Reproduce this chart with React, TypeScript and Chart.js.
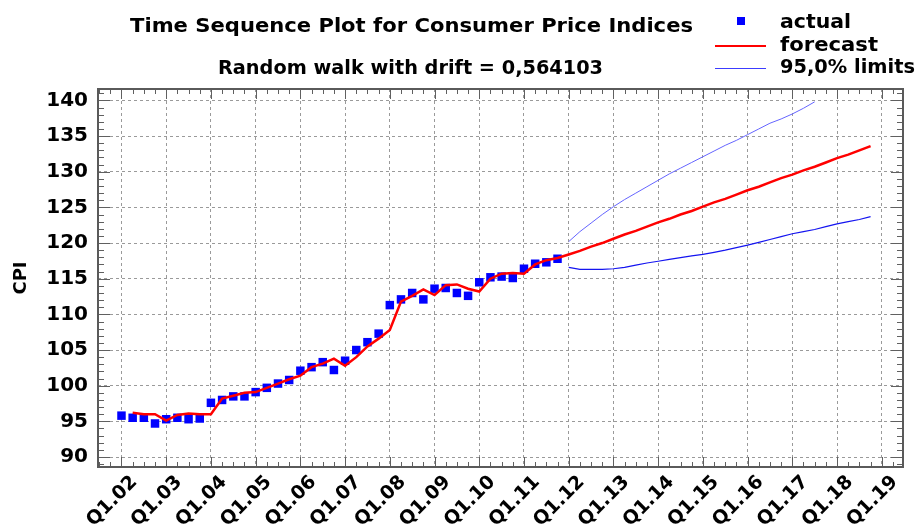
import React, { useEffect, useRef } from 'react';
import { Chart, registerables } from 'chart.js';

Chart.register(...registerables);

// ---- data ----
const quarterTickPositions = [0, 4, 8, 12, 16, 20, 24, 28, 32, 36, 40, 44, 48, 52, 56, 60, 64, 68];
const quarterTickLabels = ['Q1.02', 'Q1.03', 'Q1.04', 'Q1.05', 'Q1.06', 'Q1.07', 'Q1.08', 'Q1.09', 'Q1.10',
  'Q1.11', 'Q1.12', 'Q1.13', 'Q1.14', 'Q1.15', 'Q1.16', 'Q1.17', 'Q1.18', 'Q1.19'];
const yTickValues = [90, 95, 100, 105, 110, 115, 120, 125, 130, 135, 140];

// actual CPI, Q1.02 .. Q4.11 (quarter index 0..39)
const actualStart = 0;
const actualCPI = [
  95.8, 95.5, 95.5, 94.7, 95.3, 95.5, 95.3, 95.4,
  97.6, 98.0, 98.5, 98.5, 99.1, 99.7, 100.3, 100.8,
  102.1, 102.6, 103.3, 102.2, 103.5, 105.0, 106.1, 107.3,
  111.3, 112.1, 113.0, 112.1, 113.6, 113.7, 113.0, 112.6,
  114.5, 115.2, 115.3, 115.1, 116.4, 117.1, 117.3, 117.8,
];

// forecasts, Q2.02 .. Q4.18 (quarter index 1..67)
const forecastStart = 1;
const forecastCPI = [
  96.2, 96.0, 96.0, 95.1, 95.9, 96.1, 96.0, 96.0,
  98.2, 98.6, 99.0, 99.1, 99.7, 100.3, 100.9, 101.4,
  102.6, 103.1, 103.8, 102.8, 104.0, 105.5, 106.6, 107.8,
  111.8, 112.6, 113.5, 112.7, 114.1, 114.2, 113.6, 113.2,
  115.0, 115.7, 115.8, 115.7, 117.0, 117.6, 117.9,
  118.4, 118.9, 119.5, 120.0, 120.6, 121.2, 121.7, 122.3,
  122.9, 123.4, 124.0, 124.5, 125.1, 125.7, 126.2, 126.8,
  127.4, 127.9, 128.5, 129.1, 129.6, 130.2, 130.7, 131.3,
  131.9, 132.4, 133.0, 133.6,
];

// 95% limits, from Q1.12 (quarter index 40)
const limitStart = 40;
const upperLimit = [
  120.2, 121.6, 122.8, 124.0, 125.1, 126.1, 127.0, 127.9,
  128.8, 129.7, 130.5, 131.3, 132.1, 132.9, 133.7, 134.4,
  135.2, 136.0, 136.8, 137.4, 138.1, 138.9, 139.8,
];
const lowerLimit = [
  116.6, 116.3, 116.3, 116.3, 116.4, 116.6, 116.9, 117.2,
  117.45, 117.7, 117.95, 118.2, 118.4, 118.7, 119.0, 119.35,
  119.7, 120.1, 120.5, 120.9, 121.3, 121.6, 121.9, 122.3,
  122.7, 123.0, 123.3, 123.7,
];

const titleText = 'Time Sequence Plot for Consumer Price Indices';
const subtitleText = 'Random walk with drift = 0,564103';
const legendLabels = ['actual', 'forecast', '95,0% limits'];

const FONT = "'DejaVu Sans', 'Liberation Sans', sans-serif";
const BLUE = '#0000ff';
const RED = '#ff0000';
const UPPER_BLUE = '#6464ff';
const LOWER_BLUE = '#1414f0';

const toPoints = (arr: number[], start: number) => arr.map((v, i) => ({ x: start + i, y: v }));

function drawFitted(ctx: CanvasRenderingContext2D, text: string, left: number, baseline: number, width: number, size: number) {
  ctx.save();
  ctx.font = `bold ${size}px ${FONT}`;
  const w = ctx.measureText(text).width;
  ctx.translate(left, baseline);
  ctx.scale(width / w, 1);
  ctx.textAlign = 'left';
  ctx.textBaseline = 'alphabetic';
  ctx.fillStyle = '#000';
  ctx.fillText(text, 0, 0);
  ctx.restore();
}

const decorPlugin = {
  id: 'decor',
  afterDraw(chart: any) {
    const ctx: CanvasRenderingContext2D = chart.ctx;
    const { left, right, top, bottom } = chart.chartArea;
    const xs = chart.scales.x;
    const ys = chart.scales.y;
    ctx.save();
    // inward tick marks
    ctx.strokeStyle = '#606060';
    ctx.lineWidth = 1;
    ctx.beginPath();
    for (let q = Math.ceil(xs.min); q <= Math.floor(xs.max); q++) {
      const px = Math.round(xs.getPixelForValue(q)) + 0.5;
      const len = q % 4 === 0 ? 10 : 5;
      ctx.moveTo(px, bottom);
      ctx.lineTo(px, bottom - len);
      ctx.moveTo(px, top);
      ctx.lineTo(px, top + len);
    }
    for (let v = Math.ceil(ys.min); v <= Math.floor(ys.max); v++) {
      const py = Math.round(ys.getPixelForValue(v)) + 0.5;
      const len = v % 5 === 0 ? 12 : 6;
      ctx.moveTo(left, py);
      ctx.lineTo(left + len, py);
      ctx.moveTo(right, py);
      ctx.lineTo(right - len, py);
    }
    ctx.stroke();
    // frame
    ctx.strokeStyle = '#5a5a5a';
    ctx.lineWidth = 2;
    ctx.strokeRect(left, top, right - left, bottom - top);

    // titles
    drawFitted(ctx, titleText, 130, 32, 563, 19);
    drawFitted(ctx, subtitleText, 218, 74, 385, 19);

    // legend
    ctx.fillStyle = BLUE;
    ctx.fillRect(737, 17, 8, 8);
    ctx.strokeStyle = RED;
    ctx.lineWidth = 2;
    ctx.beginPath();
    ctx.moveTo(715, 46);
    ctx.lineTo(766, 46);
    ctx.stroke();
    ctx.strokeStyle = '#3c3cff';
    ctx.lineWidth = 1;
    ctx.beginPath();
    ctx.moveTo(715, 68.5);
    ctx.lineTo(766, 68.5);
    ctx.stroke();
    drawFitted(ctx, legendLabels[0], 780, 28, 71, 19);
    drawFitted(ctx, legendLabels[1], 780, 51, 98, 19);
    drawFitted(ctx, legendLabels[2], 780, 73, 135, 19);
    ctx.restore();
  },
};

export default function App() {
  const canvasRef = useRef<HTMLCanvasElement | null>(null);

  useEffect(() => {
    const canvas = canvasRef.current;
    if (!canvas) return;
    const chart = new Chart(canvas, {
      type: 'line',
      data: {
        datasets: [
          {
            label: 'forecast',
            data: toPoints(forecastCPI, forecastStart),
            borderColor: RED,
            borderWidth: 2.5,
            pointRadius: 0,
            tension: 0,
            fill: false,
          },
          {
            label: 'actual',
            data: toPoints(actualCPI, actualStart),
            showLine: false,
            pointStyle: 'rect',
            pointRadius: 6,
            pointBorderWidth: 0,
            backgroundColor: BLUE,
            borderColor: BLUE,
          },
          {
            label: 'upper',
            data: toPoints(upperLimit, limitStart),
            borderColor: UPPER_BLUE,
            borderWidth: 1,
            pointRadius: 0,
            fill: false,
          },
          {
            label: 'lower',
            data: toPoints(lowerLimit, limitStart),
            borderColor: LOWER_BLUE,
            borderWidth: 1.2,
            pointRadius: 0,
            fill: false,
          },
        ],
      },
      options: {
        responsive: false,
        animation: false,
        events: [],
        layout: { padding: { top: 89, right: 15, left: 0, bottom: 0 } },
        plugins: {
          legend: { display: false },
          title: { display: false },
          tooltip: { enabled: false },
        },
        scales: {
          x: {
            type: 'linear',
            min: -2.1,
            max: 69.9,
            afterBuildTicks: (scale: any) => {
              scale.ticks = quarterTickPositions.map((v) => ({ value: v }));
            },
            afterFit: (scale: any) => {
              scale.height = 63;
            },
            ticks: {
              autoSkip: false,
              maxRotation: 45,
              minRotation: 45,
              padding: 4,
              labelOffset: 13,
              color: '#000',
              font: { family: FONT, weight: 'bold', size: 19 },
              callback: (v: any) => {
                const i = quarterTickPositions.indexOf(Number(v));
                return i >= 0 ? quarterTickLabels[i] : '';
              },
            },
            grid: { color: '#9a9a9a', lineWidth: 1, drawTicks: false },
            border: { display: false, dash: [3, 3] },
          },
          y: {
            type: 'linear',
            min: 88.6,
            max: 141.6,
            afterBuildTicks: (scale: any) => {
              scale.ticks = yTickValues.map((v) => ({ value: v }));
            },
            afterFit: (scale: any) => {
              scale.width = 98;
            },
            ticks: {
              padding: 10,
              color: '#000',
              font: { family: FONT, weight: 'bold', size: 20 },
            },
            title: {
              display: true,
              text: 'CPI',
              color: '#000',
              font: { family: FONT, weight: 'bold', size: 18 },
              padding: { top: 11, bottom: 0 },
            },
            grid: { color: '#9a9a9a', lineWidth: 1, drawTicks: false },
            border: { display: false, dash: [3, 3] },
          },
        },
      },
      plugins: [decorPlugin],
    } as any);
    return () => chart.destroy();
  }, []);

  return (
    <div style={{ position: 'fixed', left: 0, top: 0, width: 918, height: 530, background: '#fff' }}>
      <canvas ref={canvasRef} width={918} height={530} style={{ display: 'block' }} />
    </div>
  );
}
